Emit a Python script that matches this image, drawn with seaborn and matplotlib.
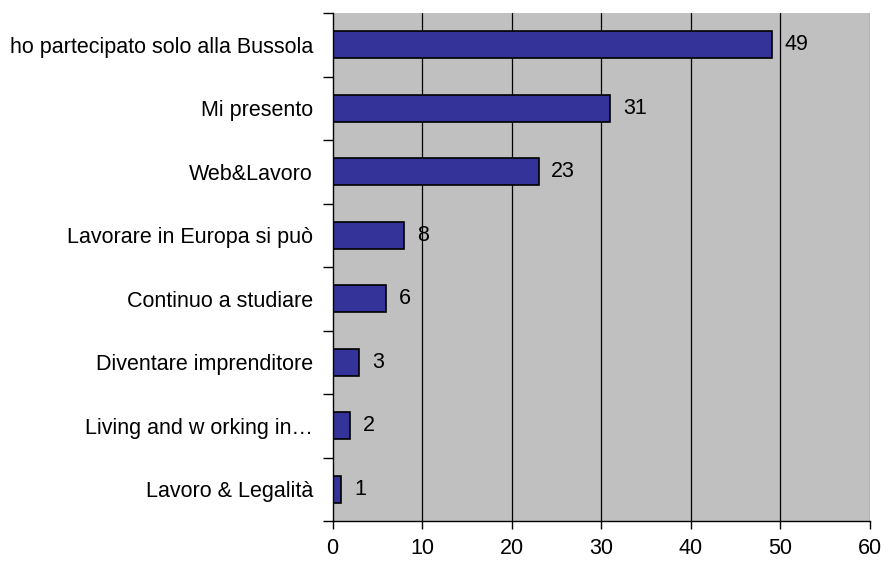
import matplotlib
matplotlib.use("Agg")
import matplotlib.pyplot as plt
import seaborn as sns
import pandas as pd

categories = [
    "ho partecipato solo alla Bussola",
    "Mi presento",
    "Web&Lavoro",
    "Lavorare in Europa si può",
    "Continuo a studiare",
    "Diventare imprenditore",
    "Living and w orking in…",
    "Lavoro & Legalità",
]
values = [49, 31, 23, 8, 6, 3, 2, 1]
x_ticks = [0, 10, 20, 30, 40, 50, 60]

df = pd.DataFrame({"cat": categories, "val": values})

sns.set_theme(style="white")
plt.rcParams['font.family'] = ['Liberation Sans', 'DejaVu Sans']
plt.rcParams['text.color'] = 'black'
plt.rcParams['xtick.color'] = 'black'
plt.rcParams['ytick.color'] = 'black'

fig = plt.figure(figsize=(8.82, 5.61), dpi=100)
ax = fig.add_axes([0.377, 0.0713, 0.6095, 0.9055])
ax.set_facecolor("#C0C0C0")

sns.barplot(data=df, x="val", y="cat", orient="h", color="#333399",
            saturation=1, width=0.42, edgecolor="black", linewidth=1.2,
            ax=ax, zorder=3)

ax.set_xlim(0, 60)
ax.set_ylim(len(categories) - 0.5, -0.5)
ax.set_xticks(x_ticks)
ax.set_xticklabels([str(t) for t in x_ticks], fontsize=15.5)
ax.set_xlabel("")
ax.set_ylabel("")

for t in x_ticks[1:-1]:
    ax.axvline(t, color="black", linewidth=0.9, zorder=1)

ax.set_yticks([i for i in range(len(categories))])
ax.set_yticklabels(categories, fontsize=15.5)
ax.tick_params(axis="y", length=0, pad=14)
ax.set_yticks([i - 0.5 for i in range(len(categories) + 1)], minor=True)
ax.tick_params(axis="y", which="minor", length=7, width=1, color="black", left=True)
ax.tick_params(axis="x", length=6, width=1, color="black", bottom=True, pad=6)

for s in ["top", "right"]:
    ax.spines[s].set_visible(False)
for s in ["left", "bottom"]:
    ax.spines[s].set_color("black")
    ax.spines[s].set_linewidth(1)
    ax.spines[s].set_zorder(4)
ax.axvline(60, color="#808080", linewidth=1, zorder=2)

for i, v in enumerate(values):
    ax.annotate(str(v), xy=(v, i), xytext=(9, 0), textcoords="offset points",
                va="center", ha="left", fontsize=15.5, color="black", zorder=5)

fig.savefig("out.png", dpi=100)
